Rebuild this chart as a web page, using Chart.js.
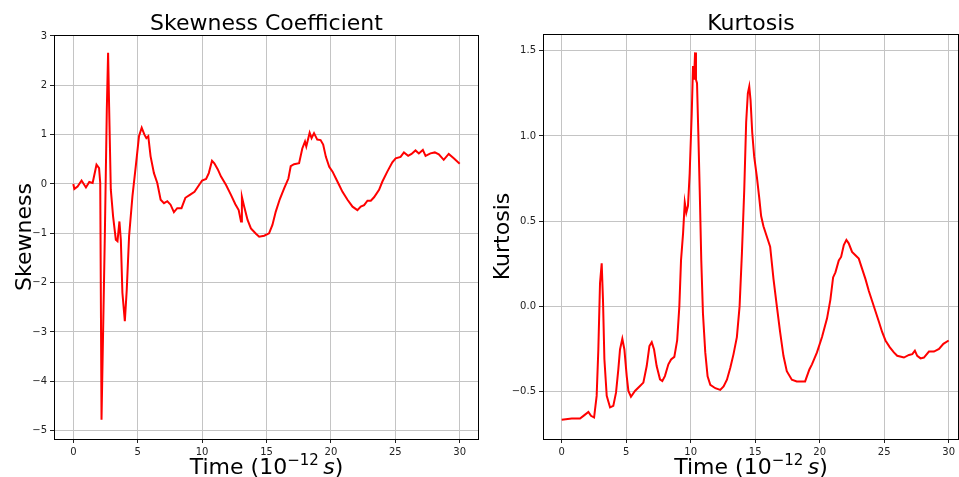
<!DOCTYPE html>
<html>
<head>
<meta charset="utf-8">
<script src="https://cdn.jsdelivr.net/npm/chart.js@4/dist/chart.umd.min.js"></script>
<style>
  html, body { margin: 0; padding: 0; background: #fff; }
  #wrap { position: relative; width: 959px; height: 477px; overflow: hidden; }
  #skewChart { position: absolute; left: 0; top: 0; }
  #kurtChart { position: absolute; left: 480px; top: 0; }
</style>
</head>
<body>
<div id="wrap">
  <canvas id="skewChart" width="480" height="477"></canvas>
  <canvas id="kurtChart" width="479" height="477"></canvas>
</div>
<script>
// time axis in units of 1e-12 s
const skewTime = [
  0, 0.08, 0.33, 0.64, 0.98, 1.24, 1.5, 1.8, 2.0, 2.09,
  2.19, 2.45, 2.6, 2.7, 2.78, 2.91, 3.09, 3.3, 3.43, 3.58,
  3.69, 3.81, 4.0, 4.15, 4.33, 4.59, 4.85, 5.1, 5.31, 5.52,
  5.67, 5.82, 6.0, 6.26, 6.52, 6.78, 7.04, 7.3, 7.55, 7.81,
  8.07, 8.4, 8.7, 9.05, 9.41, 10.0, 10.31, 10.52, 10.77, 10.95,
  11.21, 11.47, 11.86, 12.24, 12.58, 12.84, 13.02, 13.09, 13.27, 13.53,
  13.79, 14.18, 14.43, 14.82, 15.2, 15.46, 15.72, 16.03, 16.37, 16.7,
  16.88, 17.14, 17.53, 17.78, 17.99, 18.09, 18.35, 18.5, 18.69, 18.94,
  19.2, 19.4, 19.61, 19.87, 20.13, 20.39, 20.64, 20.9, 21.29, 21.68,
  22.06, 22.32, 22.58, 22.84, 23.1, 23.35, 23.74, 24.0, 24.38, 24.77,
  25.03, 25.41, 25.67, 26.0, 26.26, 26.57, 26.83, 27.14, 27.35, 27.73,
  28.07, 28.38, 28.76, 29.15, 29.54, 30.0
];
const skewValues = [
  0, -0.1, -0.05, 0.07, -0.07, 0.04, 0.02, 0.39, 0.32, 0.02,
  -4.78, -1.0, 1.5, 2.66, 1.57, -0.11, -0.66, -1.13, -1.16, -0.76,
  -1.13, -2.2, -2.78, -2.14, -1.06, -0.25, 0.36, 0.97, 1.14, 1.0,
  0.93, 0.97, 0.56, 0.22, 0.02, -0.32, -0.39, -0.35, -0.42, -0.57,
  -0.49, -0.49, -0.28, -0.22, -0.16, 0.07, 0.1, 0.22, 0.47, 0.42,
  0.3, 0.15, -0.02, -0.22, -0.41, -0.53, -0.76, -0.26, -0.46, -0.73,
  -0.9, -1.01, -1.07, -1.05, -1.0, -0.83, -0.56, -0.31, -0.09, 0.11,
  0.36, 0.4, 0.42, 0.72, 0.86, 0.76, 1.04, 0.93, 1.03, 0.9,
  0.89, 0.8, 0.55, 0.35, 0.25, 0.11, -0.02, -0.16, -0.32, -0.46,
  -0.53, -0.46, -0.43, -0.34, -0.34, -0.27, -0.12, 0.05, 0.25, 0.44,
  0.52, 0.55, 0.64, 0.57, 0.61, 0.68, 0.62, 0.69, 0.57, 0.62,
  0.64, 0.6, 0.49, 0.61, 0.52, 0.41
];

const kurtTime = [
  0, 0.78, 1.42, 1.76, 2.07, 2.27, 2.51, 2.71, 2.84, 2.97,
  3.1, 3.2, 3.31, 3.49, 3.75, 4.0, 4.21, 4.39, 4.52, 4.7,
  4.86, 5.04, 5.17, 5.37, 5.68, 6.07, 6.33, 6.59, 6.8, 6.98,
  7.16, 7.36, 7.62, 7.8, 8.0, 8.27, 8.48, 8.73, 8.95, 9.12,
  9.25, 9.41, 9.54, 9.66, 9.79, 9.92, 10.08, 10.18, 10.26, 10.34,
  10.41, 10.49, 10.59, 10.7, 10.82, 10.95, 11.13, 11.31, 11.52, 11.91,
  12.29, 12.55, 12.81, 13.07, 13.32, 13.58, 13.79, 13.97, 14.15, 14.3,
  14.43, 14.54, 14.64, 14.77, 14.92, 15.13, 15.31, 15.46, 15.64, 15.9,
  16.16, 16.42, 16.68, 16.93, 17.19, 17.45, 17.84, 18.22, 18.61, 18.87,
  19.2, 19.4, 19.79, 20.18, 20.57, 20.83, 21.04, 21.22, 21.48, 21.66,
  21.87, 22.07, 22.25, 22.51, 22.77, 23.03, 23.29, 23.55, 23.81, 24.07,
  24.33, 24.59, 24.84, 25.1, 25.44, 25.75, 26.01, 26.53, 26.92, 27.18,
  27.38, 27.56, 27.82, 28.08, 28.47, 28.86, 29.25, 29.59, 30.0
];
const kurtValues = [
  -0.665, -0.658, -0.658, -0.638, -0.619, -0.642, -0.652, -0.525, -0.253, 0.136,
  0.253, 0.04, -0.31, -0.525, -0.593, -0.584, -0.506, -0.37, -0.253, -0.19,
  -0.253, -0.409, -0.496, -0.53, -0.496, -0.467, -0.447, -0.35, -0.233, -0.21,
  -0.253, -0.35, -0.428, -0.438, -0.409, -0.34, -0.311, -0.296, -0.2, 0.0,
  0.27, 0.43, 0.61, 0.55, 0.59, 0.78, 1.13, 1.41, 1.33, 1.49,
  1.33, 1.31, 1.02, 0.68, 0.27, -0.04, -0.27, -0.41, -0.46, -0.48,
  -0.49, -0.47, -0.43, -0.36, -0.28, -0.18, 0.0, 0.31, 0.68, 1.08,
  1.25, 1.29, 1.21, 1.02, 0.88, 0.76, 0.64, 0.53, 0.47, 0.41,
  0.35, 0.16, 0.0, -0.15, -0.29, -0.38, -0.43, -0.44, -0.44, -0.44,
  -0.37, -0.34, -0.27, -0.18, -0.07, 0.04, 0.17, 0.2, 0.27, 0.29,
  0.36, 0.39, 0.37, 0.32, 0.3, 0.28, 0.22, 0.16, 0.09, 0.03,
  -0.03, -0.09, -0.15, -0.2, -0.24, -0.27, -0.29, -0.3, -0.285, -0.28,
  -0.26, -0.29, -0.305, -0.3, -0.265, -0.265, -0.25, -0.22, -0.2
];

const FONT = '"DejaVu Sans", sans-serif';

// titles, axis labels and the box frame, drawn matplotlib style
const decorPlugin = {
  id: "decor",
  afterDraw(chart, args, opts) {
    const ctx = chart.ctx;
    const a = chart.chartArea;
    const cx = (a.left + a.right) / 2;
    ctx.save();
    ctx.fillStyle = "#000";

    ctx.font = "22px " + FONT;
    ctx.textAlign = "center";
    ctx.textBaseline = "alphabetic";
    ctx.fillText(opts.title, cx, 30);

    ctx.save();
    ctx.translate(opts.ylabelX, (a.top + a.bottom) / 2);
    ctx.rotate(-Math.PI / 2);
    ctx.fillText(opts.ylabel, 0, 0);
    ctx.restore();

    // "Time (10^-12 s)"
    const parts = [
      { t: "Time (10", f: "22px " + FONT, dy: 0 },
      { t: "\u221212", f: "15px " + FONT, dy: -9 },
      { t: "\u2009", f: "22px " + FONT, dy: 0 },
      { t: "s", f: "italic 22px " + FONT, dy: 0 },
      { t: ")", f: "22px " + FONT, dy: 0 },
    ];
    let total = 0;
    parts.forEach((p) => {
      ctx.font = p.f;
      p.w = ctx.measureText(p.t).width;
      total += p.w;
    });
    let x = cx - total / 2;
    ctx.textAlign = "left";
    parts.forEach((p) => {
      ctx.font = p.f;
      ctx.fillText(p.t, x, 474 + p.dy);
      x += p.w;
    });

    ctx.strokeStyle = "#000";
    ctx.lineWidth = 1;
    ctx.strokeRect(Math.round(a.left) + 0.5, Math.round(a.top) + 0.5,
      Math.round(a.right - a.left) - 1, Math.round(a.bottom - a.top));
    ctx.restore();
  },
};

const makeChart = (canvasId, times, values, cfg) => {
  const points = times.map((t, i) => ({ x: t, y: values[i] }));
  return new Chart(document.getElementById(canvasId), {
    type: "line",
    data: {
      datasets: [
        {
          data: points,
          borderColor: "#ff0000",
          borderWidth: 2,
          pointRadius: 0,
          tension: 0,
          fill: false,
        },
      ],
    },
    options: {
      responsive: false,
      animation: false,
      devicePixelRatio: 1,
      layout: { padding: { top: cfg.top, right: cfg.right, left: 0, bottom: 0 } },
      plugins: {
        legend: { display: false },
        tooltip: { enabled: false },
        decor: { title: cfg.title, ylabel: cfg.ylabel, ylabelX: cfg.ylabelX },
      },
      scales: {
        x: {
          type: "linear",
          min: cfg.xMin,
          max: cfg.xMax,
          afterFit: (s) => { s.height = 38; },
          border: { display: false },
          grid: { color: "#c4c4c4", lineWidth: 1, tickLength: 4, tickColor: "#222" },
          ticks: {
            stepSize: 5,
            includeBounds: false,
            maxRotation: 0,
            padding: 3,
            color: "#222",
            font: { family: FONT, size: 10 },
          },
        },
        y: {
          min: cfg.yMin,
          max: cfg.yMax,
          afterFit: (s) => { s.width = cfg.yWidth; },
          border: { display: false },
          grid: { color: "#c4c4c4", lineWidth: 1, tickLength: 4, tickColor: "#222" },
          ticks: {
            stepSize: cfg.yStep,
            includeBounds: false,
            padding: 3,
            color: "#222",
            font: { family: FONT, size: 10 },
            callback: (v) => v.toFixed(cfg.digits).replace("-", "\u2212"),
          },
        },
      },
    },
    plugins: [decorPlugin],
  });
};

makeChart("skewChart", skewTime, skewValues, {
  title: "Skewness Coefficient",
  ylabel: "Skewness",
  ylabelX: 31,
  top: 35, right: 1, yWidth: 54,
  xMin: -1.5, xMax: 31.5,
  yMin: -5.17, yMax: 3.02, yStep: 1, digits: 0,
});

makeChart("kurtChart", kurtTime, kurtValues, {
  title: "Kurtosis",
  ylabel: "Kurtosis",
  ylabelX: 29,
  top: 34, right: 0, yWidth: 63,
  xMin: -1.45, xMax: 30.8,
  yMin: -0.778, yMax: 1.598, yStep: 0.5, digits: 1,
});
</script>
</body>
</html>
